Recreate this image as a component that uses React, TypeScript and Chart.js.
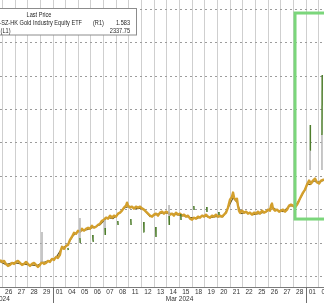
import React, { useEffect, useRef } from 'react';
import { Chart, registerables } from 'chart.js';
Chart.register(...registerables);

// ---- x axis: trading days (index 0 = Mon 26 Feb 2024) ----
const dayLabels = ['26', '27', '28', '29', '01', '04', '05', '06', '07', '08', '11', '12', '13', '14', '15', '18', '19', '20', '21', '22', '25', '26', '27', '28', '01', '02'];
const monthNames = ['Feb 2024', 'Mar 2024', 'Apr 2024'];
const monthStart = [-5, 4, 24];
const monthEnd = [4, 24, 32];
const xMin = -0.19;
const xMax = 25.42;

// ---- Gold spot (L1), intraday samples: day index / price ----
const goldDays = [-0.19, -0.03, 0.13, 0.28, 0.44, 0.6, 0.76, 0.92, 1.07, 1.23, 1.39, 1.55, 1.71, 1.87, 2.02, 2.18, 2.34, 2.5, 2.66, 2.81, 2.97, 3.13, 3.29, 3.45, 3.6, 3.76, 3.92, 4.08, 4.24, 4.39, 4.55, 4.63, 4.71, 4.87, 5.03, 5.19, 5.34, 5.5, 5.66, 5.82, 5.98, 6.13, 6.29, 6.45, 6.61, 6.77, 6.92, 7.08, 7.24, 7.4, 7.56, 7.72, 7.87, 8.03, 8.19, 8.35, 8.51, 8.66, 8.82, 8.98, 9.14, 9.3, 9.45, 9.61, 9.77, 9.85, 9.93, 10.09, 10.24, 10.4, 10.56, 10.72, 10.88, 11.04, 11.19, 11.35, 11.51, 11.67, 11.83, 11.98, 12.14, 12.3, 12.46, 12.62, 12.77, 12.93, 13.09, 13.25, 13.41, 13.56, 13.72, 13.88, 14.04, 14.2, 14.36, 14.51, 14.67, 14.83, 14.99, 15.15, 15.3, 15.46, 15.62, 15.78, 15.94, 16.09, 16.25, 16.41, 16.57, 16.73, 16.88, 17.04, 17.2, 17.36, 17.52, 17.68, 17.83, 17.91, 17.99, 18.15, 18.23, 18.31, 18.47, 18.54, 18.62, 18.7, 18.78, 18.94, 19.1, 19.26, 19.41, 19.57, 19.73, 19.89, 20.05, 20.2, 20.36, 20.52, 20.68, 20.84, 20.99, 21.15, 21.23, 21.31, 21.39, 21.55, 21.71, 21.87, 22.02, 22.18, 22.34, 22.5, 22.66, 22.81, 22.97, 23.13, 23.29, 23.45, 23.6, 23.76, 23.92, 24.08, 24.24, 24.39, 24.55, 24.71, 24.87, 25.03, 25.19, 25.42];
const goldPrices = [2051, 2045, 2048, 2039, 2033, 2036, 2042, 2039, 2045, 2048, 2042, 2036, 2039, 2045, 2039, 2033, 2039, 2042, 2036, 2030, 2036, 2045, 2039, 2042, 2048, 2045, 2054, 2051, 2060, 2057, 2066, 2081, 2090, 2084, 2093, 2096, 2111, 2120, 2132, 2129, 2138, 2135, 2144, 2138, 2144, 2147, 2144, 2153, 2147, 2150, 2156, 2159, 2168, 2171, 2177, 2174, 2183, 2177, 2183, 2180, 2189, 2192, 2198, 2207, 2213, 2222, 2213, 2207, 2210, 2204, 2210, 2207, 2210, 2204, 2201, 2195, 2189, 2183, 2180, 2186, 2189, 2183, 2192, 2195, 2189, 2195, 2192, 2186, 2189, 2183, 2192, 2186, 2189, 2183, 2186, 2180, 2183, 2174, 2171, 2177, 2174, 2180, 2177, 2183, 2180, 2186, 2180, 2177, 2183, 2180, 2186, 2180, 2183, 2180, 2186, 2192, 2207, 2219, 2231, 2240, 2252, 2237, 2228, 2234, 2213, 2198, 2192, 2198, 2192, 2195, 2189, 2192, 2186, 2192, 2189, 2195, 2189, 2198, 2192, 2195, 2201, 2198, 2213, 2219, 2204, 2198, 2201, 2195, 2198, 2201, 2195, 2201, 2213, 2216, 2213, 2207, 2216, 2228, 2240, 2252, 2261, 2276, 2288, 2279, 2288, 2294, 2282, 2279, 2288, 2291];

// ---- Gold industry equity ETF (R1) ----
const etfDays = [-0.19, 0.28, 0.84, 1.39, 2.02, 2.74, 3.21, 3.76, 4.24, 4.71, 5.11, 5.58, 5.98, 6.69, 7.16, 7.72, 8.27, 8.74, 9.3, 9.69, 10.09, 10.64, 11.11, 11.67, 12.22, 12.7, 13.25, 13.8, 14.28, 14.83, 15.38, 15.86, 16.41, 16.96, 17.44, 17.91, 18.23, 18.55, 18.86, 19.34, 19.81, 20.36, 20.92, 21.31, 21.71, 22.18, 22.73, 23.13, 23.53, 23.92, 24.08, 24.32, 24.63, 24.86, 25.1, 25.42];
const etfPrices = [1.046, 1.037, 1.043, 1.040, 1.037, 1.034, 1.043, 1.049, 1.058, 1.087, 1.094, 1.123, 1.136, 1.141, 1.148, 1.156, 1.178, 1.174, 1.193, 1.207, 1.211, 1.204, 1.205, 1.180, 1.187, 1.192, 1.190, 1.186, 1.183, 1.178, 1.174, 1.184, 1.177, 1.181, 1.180, 1.212, 1.236, 1.223, 1.189, 1.193, 1.186, 1.190, 1.196, 1.210, 1.199, 1.195, 1.213, 1.211, 1.234, 1.260, 1.278, 1.276, 1.287, 1.282, 1.285, 1.288];

// ---- ETF session marks (null = break) ----
const markDays = [3.13, 3.13, 3.13, 5.17, 5.21, 5.21, 6.13, 6.13, 6.15, 6.15, 7.14, 7.16, 7.19, 7.19, 8.11, 8.11, 8.13, 8.13, 9.12, 9.14, 9.17, 9.17, 10.15, 10.17, 10.2, 10.2, 11.17, 11.19, 11.22, 11.22, 12.12, 12.14, 12.14, 13.17, 13.17, 13.19, 13.19, 14.1, 14.12, 14.12, 15.13, 15.15, 15.15, 16.15, 16.17, 16.17, 17.1, 17.12, 17.12, 24.32, 24.32, 24.34, 24.34, 25.26, 25.26, 25.28];
const markPrices = [1.1343, 1.0448, null, 1.0866, 1.0806, null, 1.1761, 1.1164, 1.1015, null, 1.1254, 1.1104, 1.1045, null, 1.1701, 1.1463, 1.1254, null, 1.1672, 1.1552, 1.1552, null, 1.1731, 1.1552, 1.1552, null, 1.1642, 1.1343, 1.1343, null, 1.1493, 1.1194, null, 1.2149, 1.1821, 1.1552, null, 1.1881, 1.1701, null, 1.2119, 1.2, null, 1.209, 1.194, null, 1.194, 1.1851, null, 1.3194, 1.3791, 1.4537, null, 1.3194, 1.4239, 1.603];

// ---- axes ----
const goldGrid = [2000, 2100, 2200, 2300, 2400, 2500, 2600, 2700, 2800];
const goldMin = 1970.1;
const goldMax = 2826.9;
const etfMin = 0.9701;
const etfMax = 1.8269;

// ---- highlight box (day range, gold price range) ----
const boxDays = [23.13, 27];
const boxPrices = [2173, 2788];

// ---- legend ----
const legendTitle = 'Last Price';
const legendNames = ['Yinhua SSE-SZ-HK Gold Industry Equity ETF', 'Gold Spot $/Oz'];
const legendTags = ['(R1)', '(L1)'];
const legendValues = ['1.583', '2337.75'];

const FONT = '"Liberation Sans", Arial, sans-serif';

function condensedText(ctx: any, text: string, x: number, y: number, align: string) {
  ctx.save();
  ctx.translate(x, y);
  ctx.scale(0.86, 1);
  ctx.textAlign = align;
  ctx.fillText(text, 0, 0);
  ctx.restore();
}

const overlay = {
  id: 'overlay',
  afterDatasetsDraw(chart: any) {
    const { ctx, scales } = chart;
    const x = scales.x;
    const y = scales.y;
    // green highlight box
    ctx.save();
    ctx.strokeStyle = '#7bd67b';
    ctx.lineWidth = 3;
    const bx0 = x.getPixelForValue(boxDays[0]);
    const bx1 = x.getPixelForValue(boxDays[1]);
    const by0 = y.getPixelForValue(boxPrices[1]);
    const by1 = y.getPixelForValue(boxPrices[0]);
    ctx.strokeRect(bx0, by0, bx1 - bx0, by1 - by0);
    ctx.restore();

    // legend box
    ctx.save();
    ctx.fillStyle = '#ffffff';
    ctx.strokeStyle = '#8c8c8c';
    ctx.lineWidth = 1;
    ctx.fillRect(-20, 8.5, 156.5, 26.5);
    ctx.strokeRect(-20, 8.5, 156.5, 26.5);
    ctx.fillStyle = '#262626';
    ctx.font = `6.5px ${FONT}`;
    ctx.textBaseline = 'middle';
    condensedText(ctx, legendTitle, 39, 15.5, 'center');
    condensedText(ctx, legendNames[0], 82, 23.5, 'right');
    condensedText(ctx, legendTags[0], 93, 23.5, 'left');
    condensedText(ctx, legendValues[0], 130, 23.5, 'right');
    condensedText(ctx, legendNames[1] + '  ' + legendTags[1], 10.5, 31, 'right');
    condensedText(ctx, legendValues[1], 130, 31, 'right');
    ctx.restore();
  },
  afterDraw(chart: any) {
    const { ctx, scales, chartArea } = chart;
    const x = scales.x;
    const base = chartArea.bottom;
    ctx.save();
    ctx.fillStyle = '#333';
    ctx.font = `6.5px ${FONT}`;
    ctx.textAlign = 'center';
    ctx.textBaseline = 'middle';
    dayLabels.forEach((lab, i) => {
      ctx.fillText(lab, x.getPixelForValue(i + 0.5), base + 5.5);
    });
    monthNames.forEach((m, i) => {
      const c = x.getPixelForValue((monthStart[i] + monthEnd[i]) / 2);
      ctx.fillText(m, c, base + 12);
    });
    ctx.strokeStyle = '#6e6e6e';
    ctx.lineWidth = 1;
    monthStart.forEach((s) => {
      const px = Math.round(x.getPixelForValue(s)) + 0.5;
      ctx.beginPath();
      ctx.moveTo(px, base);
      ctx.lineTo(px, chart.height);
      ctx.stroke();
    });
    ctx.restore();
  },
};

export default function App() {
  const ref = useRef<HTMLCanvasElement>(null);
  useEffect(() => {
    document.body.style.margin = '0';
    const gold = goldDays.map((d, i) => ({ x: d, y: goldPrices[i] }));
    const etf = etfDays.map((d, i) => ({ x: d, y: etfPrices[i] }));
    const marks = markDays.map((d, i) => ({ x: d, y: markPrices[i] }));
    const chart = new Chart(ref.current!, {
      type: 'line',
      data: {
        datasets: [
          {
            label: 'ETF session',
            data: marks as any,
            yAxisID: 'y1',
            borderColor: '#4e7d2c',
            borderWidth: 1.5,
            pointRadius: 0,
            spanGaps: false,
            segment: {
              borderColor: (c: any) => (c.p0.parsed.x === c.p1.parsed.x ? '#b4b4b4' : '#4e7d2c'),
            },
          },
          {
            label: legendNames[1],
            data: gold as any,
            yAxisID: 'y',
            borderColor: '#d39f2c',
            borderWidth: 2.4,
            pointRadius: 0,
            borderJoinStyle: 'round',
          },
          {
            label: legendNames[0],
            data: etf as any,
            yAxisID: 'y1',
            borderColor: '#6b5a22',
            borderWidth: 1.1,
            pointRadius: 0,
          },
        ],
      },
      options: {
        animation: false,
        responsive: true,
        maintainAspectRatio: false,
        layout: { padding: { left: 0, right: 0, top: 0, bottom: 16 } },
        plugins: { legend: { display: false }, tooltip: { enabled: false } },
        events: [],
        scales: {
          x: {
            type: 'linear',
            min: xMin,
            max: xMax,
            afterBuildTicks: (s: any) => {
              s.ticks = dayLabels.map((_, i) => ({ value: i }));
            },
            ticks: { display: false },
            grid: { color: '#cfcfcf', drawTicks: false, lineWidth: 1 },
            border: { display: true, color: '#7a7a7a' },
          },
          y: {
            type: 'linear',
            position: 'left',
            min: goldMin,
            max: goldMax,
            afterBuildTicks: (s: any) => {
              s.ticks = goldGrid.map((v) => ({ value: v }));
            },
            ticks: { display: false },
            grid: { color: '#9c9c9c', drawTicks: false, lineWidth: 1 },
            border: { display: false, dash: [2, 3] },
          },
          y1: {
            type: 'linear',
            position: 'right',
            min: etfMin,
            max: etfMax,
            display: false,
          },
        },
      },
      plugins: [overlay],
    });
    return () => chart.destroy();
  }, []);
  return (
    <div style={{ position: 'relative', width: 324, height: 303 }}>
      <canvas ref={ref} />
    </div>
  );
}
